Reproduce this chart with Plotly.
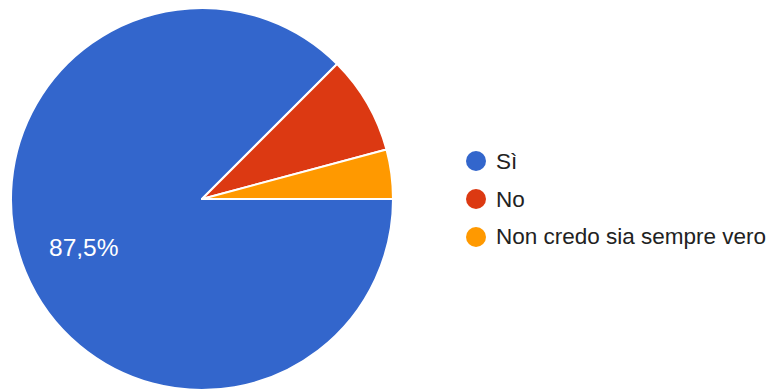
import plotly.graph_objects as go

# Survey responses (24 total)
labels = ["Sì", "No", "Non credo sia sempre vero"]
counts = [21, 2, 1]
colors = ["#3366CC", "#DC3912", "#FF9900"]

W, H = 769, 390
FONT = "Liberation Sans, Arial, sans-serif"

fig = go.Figure()
fig.add_trace(go.Pie(
    labels=labels,
    values=counts,
    sort=False,
    direction="clockwise",
    rotation=90,
    marker=dict(colors=colors, line=dict(color="white", width=2)),
    textinfo="none",
    hoverinfo="label+percent",
    showlegend=False,
    domain=dict(x=[11 / W, 393 / W], y=[0, 382 / H]),
))

# Percentage label for the dominant slice, Italian decimal comma
share = counts[0] / sum(counts) * 100
pct_text = f"{share:.1f}%".replace(".", ",")

annotations = [dict(
    text=pct_text, xref="paper", yref="paper",
    x=83 / W, y=1 - 247 / H, xanchor="center", yanchor="middle",
    showarrow=False,
    font=dict(family=FONT, size=24.5, color="white"),
)]

# Legend drawn as round markers with labels
shapes = []
legend_x, first_y, step, r = 476, 161, 38, 10
for i, (lab, col) in enumerate(zip(labels, colors)):
    cy = first_y + i * step
    shapes.append(dict(
        type="circle", xref="paper", yref="paper",
        x0=(legend_x - r) / W, x1=(legend_x + r) / W,
        y0=1 - (cy + r) / H, y1=1 - (cy - r) / H,
        fillcolor=col, line=dict(width=0),
    ))
    annotations.append(dict(
        text=lab, xref="paper", yref="paper",
        x=(legend_x + 18) / W, y=1 - cy / H,
        xanchor="left", yanchor="middle", showarrow=False,
        font=dict(family=FONT, size=22.5, color="#222222"),
    ))

fig.update_layout(
    width=W, height=H,
    margin=dict(l=0, r=0, t=0, b=0),
    paper_bgcolor="white",
    plot_bgcolor="white",
    shapes=shapes,
    annotations=annotations,
)

fig.write_html("out.html")
